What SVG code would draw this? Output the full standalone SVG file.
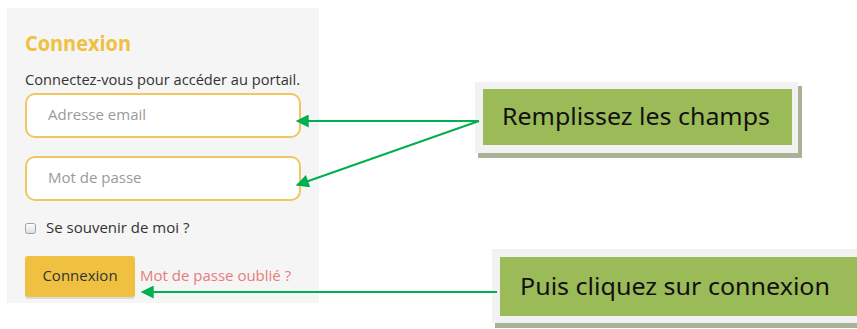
<svg xmlns="http://www.w3.org/2000/svg" width="857" height="329" viewBox="0 0 857 329">
  <defs>
    <marker id="arrowhead" viewBox="0 0 10 10" refX="9" refY="5" markerWidth="17" markerHeight="13" markerUnits="userSpaceOnUse" orient="auto">
      <path d="M0,0 L10,5 L0,10 Z" fill="#00b050"/>
    </marker>
    <linearGradient id="checkFill" x1="0" y1="0" x2="0" y2="1">
      <stop offset="0" stop-color="#ffffff"/>
      <stop offset="1" stop-color="#dddddd"/>
    </linearGradient>
  </defs>
  <style>
    .ui { font-family: "Open Sans", "Noto Sans", sans-serif; font-size: 15px; }
    .field { fill: #ffffff; stroke: #f0c75e; stroke-width: 2; }
    .hint { fill: #9a9a9a; }
    .label { fill: #333333; }
    .frame { fill: #f2f2f2; }
    .shadow { fill: #a7b394; }
    .callout { fill: #9bbb59; }
    .callout-text { font-family: "Noto Sans", "Open Sans", sans-serif; font-size: 24px; fill: #111111; }
    .link { stroke: #00b050; stroke-width: 2; fill: none; marker-end: url(#arrowhead); }
  </style>

  <rect width="857" height="329" fill="#ffffff"/>

  <!-- login panel -->
  <g id="login-panel">
    <rect x="7" y="8" width="312" height="295" fill="#f5f5f5"/>
    <text x="25" y="51" font-family="'Open Sans', 'Noto Sans', sans-serif" font-size="21" font-weight="bold" fill="#f0c040" textLength="106" lengthAdjust="spacingAndGlyphs">Connexion</text>
    <text class="ui label" x="25" y="85" textLength="275" lengthAdjust="spacingAndGlyphs">Connectez-vous pour accéder au portail.</text>
  </g>

  <g id="email-field">
    <rect class="field" x="26" y="94" width="274" height="43" rx="9"/>
    <text class="ui hint" x="48" y="120">Adresse email</text>
  </g>

  <g id="password-field">
    <rect class="field" x="26" y="157" width="274" height="43" rx="9"/>
    <text class="ui hint" x="48" y="183">Mot de passe</text>
  </g>

  <g id="remember-me">
    <rect x="25.5" y="223.5" width="10" height="10" rx="2" fill="url(#checkFill)" stroke="#a0a0a0"/>
    <text class="ui label" x="46" y="233">Se souvenir de moi ?</text>
  </g>

  <g id="login-button">
    <rect x="25" y="258" width="110" height="41" rx="3" fill="#dcdcdc"/>
    <rect x="25" y="256" width="110" height="41" rx="3" fill="#f0c040"/>
    <text class="ui" x="80" y="281" text-anchor="middle" fill="#333333">Connexion</text>
  </g>

  <g id="forgot-password">
    <text class="ui" x="140" y="281" fill="#e57c7c">Mot de passe oublié ?</text>
  </g>

  <!-- callout: fill the fields -->
  <g id="callout-fields">
    <rect class="shadow" x="478" y="86" width="324" height="72"/>
    <rect class="frame" x="475" y="82" width="323" height="71"/>
    <rect class="callout" x="483" y="89" width="309" height="56"/>
    <text class="callout-text" x="502" y="125" textLength="268" lengthAdjust="spacingAndGlyphs">Remplissez les champs</text>
  </g>

  <!-- callout: click login -->
  <g id="callout-login">
    <rect class="shadow" x="495" y="253" width="370" height="75"/>
    <rect class="frame" x="492" y="249" width="370" height="74"/>
    <rect class="callout" x="500" y="257" width="362" height="59"/>
    <text class="callout-text" x="520" y="295" textLength="310" lengthAdjust="spacingAndGlyphs">Puis cliquez sur connexion</text>
  </g>

  <!-- connectors -->
  <g id="connectors">
    <line class="link" x1="479" y1="121" x2="297" y2="121"/>
    <line class="link" x1="479" y1="121" x2="297" y2="185"/>
    <line class="link" x1="497" y1="292" x2="142" y2="292"/>
  </g>
</svg>
